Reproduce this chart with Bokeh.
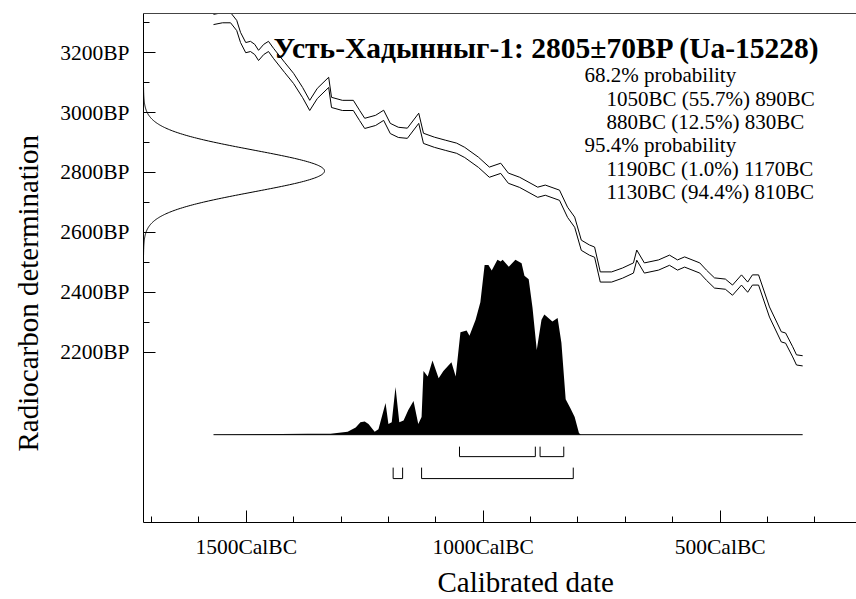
import numpy as np
from bokeh.plotting import figure
from bokeh.models import LinearAxis, FixedTicker, Range1d, Label, Title, ColumnDataSource
from bokeh.embed import file_html
from bokeh.resources import INLINE
from bokeh.core.properties import value

# ---------------- data ----------------
chart_title = "Усть-Хадынныг-1: 2805±70BP (Ua-15228)"
x_axis_title = "Calibrated date"
y_axis_title = "Radiocarbon determination"
c14_mean = 2805
c14_sigma = 70

# calibration curve (mid line), calendar years BC and radiocarbon age BP
curve_year_bc = [1569, 1550, 1533, 1520, 1512, 1501, 1491, 1482, 1474, 1463, 1453, 1442,
                 1419, 1400, 1381, 1366, 1350, 1326, 1320, 1297, 1274, 1261, 1250, 1227,
                 1210, 1196, 1179, 1160, 1136, 1126, 1103, 1080, 1056, 1039, 1010, 987,
                 963, 947, 923, 885, 869, 839, 822, 807, 793, 776, 765, 753, 729, 706,
                 683, 676, 660, 630, 607, 590, 575, 543, 529, 512, 489, 474, 455, 442,
                 432, 419, 396, 371, 362, 347, 339, 326]
curve_bp = [3311, 3317, 3317, 3291, 3251, 3217, 3221, 3211, 3191, 3211, 3221, 3197,
            3151, 3114, 3067, 3024, 3064, 3101, 3034, 3024, 3024, 2991, 2964, 2974,
            2991, 2947, 2934, 2931, 2981, 2914, 2901, 2891, 2881, 2867, 2834, 2801,
            2814, 2781, 2767, 2734, 2741, 2724, 2667, 2634, 2557, 2541, 2534, 2451, 2451, 2464,
            2481, 2524, 2481, 2491, 2507, 2491, 2501, 2481, 2457, 2431, 2427, 2407, 2441, 2417,
            2441, 2441, 2334, 2251, 2247, 2201, 2174, 2171]
curve_sigma = 17

# calibrated probability distribution (relative)
dist_year_bc = [1569, 1370, 1322, 1286, 1269, 1259, 1250, 1242, 1229, 1221, 1212, 1206,
                1200, 1193, 1185, 1177, 1168, 1158, 1147, 1137, 1130, 1126, 1117, 1107,
                1094, 1084, 1067, 1058, 1048, 1035, 1029, 1016, 1006, 997, 989, 982, 970,
                963, 959, 946, 932, 919, 913, 904, 896, 887, 877, 871, 854, 843, 835, 826,
                816, 807, 798, 794, 326]
dist_prob = [0.0, 0.005, 0.005, 0.017, 0.04, 0.07, 0.075, 0.06, 0.017, 0.03, 0.12, 0.18,
             0.06, 0.07, 0.27, 0.07, 0.08, 0.14, 0.19, 0.06, 0.10, 0.36, 0.33, 0.42,
             0.32, 0.36, 0.41, 0.33, 0.58, 0.59, 0.56, 0.65, 0.75, 0.96, 0.96, 0.93, 0.99,
             0.98, 0.99, 0.95, 0.99, 0.97, 0.90, 0.88, 0.72, 0.48, 0.65, 0.68, 0.64, 0.66, 0.52, 0.20,
             0.15, 0.10, 0.01, 0.0, 0.0]

range68_from = [1050, 880]
range68_to = [890, 830]
range95_from = [1190, 1130]
range95_to = [1170, 810]

prob_text = ["68.2% probability",
             "1050BC (55.7%) 890BC",
             "880BC (12.5%) 830BC",
             "95.4% probability",
             "1190BC (1.0%) 1170BC",
             "1130BC (94.4%) 810BC"]
prob_indent = [0, 1, 1, 0, 1, 1]

x_major_years = [1500, 1000, 500]
x_major_labels = ["1500CalBC", "1000CalBC", "500CalBC"]
x_minor_years = [1700, 1600, 1400, 1300, 1200, 1100, 900, 800, 700, 600, 400, 300]
y_major_bp = [2200, 2400, 2600, 2800, 3000, 3200]
y_major_labels = ["2200BP", "2400BP", "2600BP", "2800BP", "3000BP", "3200BP"]
y_minor_bp = [2300, 2500, 2700, 2900, 3100, 3300]

# ---------------- figure ----------------
FONT = "Liberation Serif"
X0, X1 = -1716.7, -212.4
Y0, Y1 = 1631, 3331

p = figure(width=856, height=599, output_backend="svg", toolbar_location=None,
           x_range=Range1d(X0, X1), y_range=Range1d(Y0, Y1))
p.min_border_left = 143
p.min_border_right = 0
p.min_border_top = 13
p.min_border_bottom = 76
p.outline_line_color = None
p.xgrid.visible = False
p.ygrid.visible = False
p.background_fill_color = "white"
p.border_fill_color = "white"

# axes
xa = p.xaxis[0]
xa.ticker = FixedTicker(ticks=[-y for y in x_major_years], minor_ticks=[-y for y in x_minor_years])
xa.major_label_overrides = {-y: l for y, l in zip(x_major_years, x_major_labels)}
ya = p.yaxis[0]
ya.ticker = FixedTicker(ticks=y_major_bp, minor_ticks=y_minor_bp)
ya.major_label_overrides = {y: l for y, l in zip(y_major_bp, y_major_labels)}
for ax in (xa, ya):
    ax.axis_line_color = "black"
    ax.axis_line_width = 1
    ax.major_tick_line_color = "black"
    ax.minor_tick_line_color = "black"
    ax.major_tick_in = 12
    ax.major_tick_out = 0
    ax.minor_tick_in = 6
    ax.minor_tick_out = 0
    ax.major_label_text_font = FONT
    ax.major_label_text_font_size = "21.5px"
    ax.major_label_text_color = "black"
ya.major_label_standoff = 14
xa.major_label_standoff = 12

top = LinearAxis(ticker=FixedTicker(ticks=[]), axis_line_color="#444444", axis_line_width=1,
                 major_tick_line_color=None, minor_tick_line_color=None,
                 major_label_text_font_size="0px")
p.add_layout(top, "above")

p.add_layout(Title(text=y_axis_title, align="left", offset=71, vertical_align="top",
                   text_font=FONT, text_font_size="29px", text_font_style="normal",
                   text_color="black", standoff=23), "left")
p.add_layout(Title(text=x_axis_title, align="left", offset=294,
                   text_font=FONT, text_font_size="29px", text_font_style="normal",
                   text_color="black", standoff=4), "below")

# helpers for placing annotations at page pixel positions
def px_x(px):
    return -(1000 + (482.7 - px) / 0.474)

def px_y(py):
    return 3200 + (52.3 - py) / 0.3

# calibration curve (+/- 1 sigma)
cx = [-y for y in curve_year_bc]
cb = np.array(curve_bp, dtype=float)
p.line(cx, cb + curve_sigma, line_color="black", line_width=1)
p.line(cx, cb - curve_sigma, line_color="black", line_width=1)

# radiocarbon measurement distribution on the y axis
gy = np.linspace(c14_mean - 4 * c14_sigma, c14_mean + 4 * c14_sigma, 300)
gamp = 381.9
gx = X0 + gamp * np.exp(-0.5 * ((gy - c14_mean) / c14_sigma) ** 2)
p.line(gx, gy, line_color="black", line_width=1)

# calibrated distribution
base = px_y(435)
hscale = px_y(258) - base
dx = [-y for y in dist_year_bc]
dtop = [base + v * hscale for v in dist_prob]
p.varea(x=dx, y1=[base] * len(dx), y2=dtop, fill_color="black")
p.line([dx[0], dx[-1]], [base, base], line_color="black", line_width=1)

# range brackets
def brackets(froms, tos, ytop, ybot):
    xs, ys = [], []
    for a, b in zip(froms, tos):
        xs.append([-a, -a, -b, -b])
        ys.append([ytop, ybot, ybot, ytop])
    return xs, ys

xs68, ys68 = brackets(range68_from, range68_to, px_y(447), px_y(457))
xs95, ys95 = brackets(range95_from, range95_to, px_y(468), px_y(479))
p.multi_line(xs68 + xs95, ys68 + ys95, line_color="black", line_width=1)

# title
p.add_layout(Label(x=px_x(273), y=px_y(48), text=chart_title, text_font=FONT,
                   text_font_size="29.5px", text_font_style="bold", text_color="black",
                   text_baseline="alphabetic", text_align="left"))

# probability text
tx = [px_x(606) if ind else px_x(584) for ind in prob_indent]
ty = [px_y(75 + 23.4 * i) for i in range(len(prob_text))]
src = ColumnDataSource(dict(x=tx, y=ty, t=prob_text))
p.text(x="x", y="y", text="t", source=src, text_font=value(FONT), text_font_size="21px",
       text_color="black", text_baseline="alphabetic", text_align="left")

open("out.html", "w").write(file_html(p, INLINE))
